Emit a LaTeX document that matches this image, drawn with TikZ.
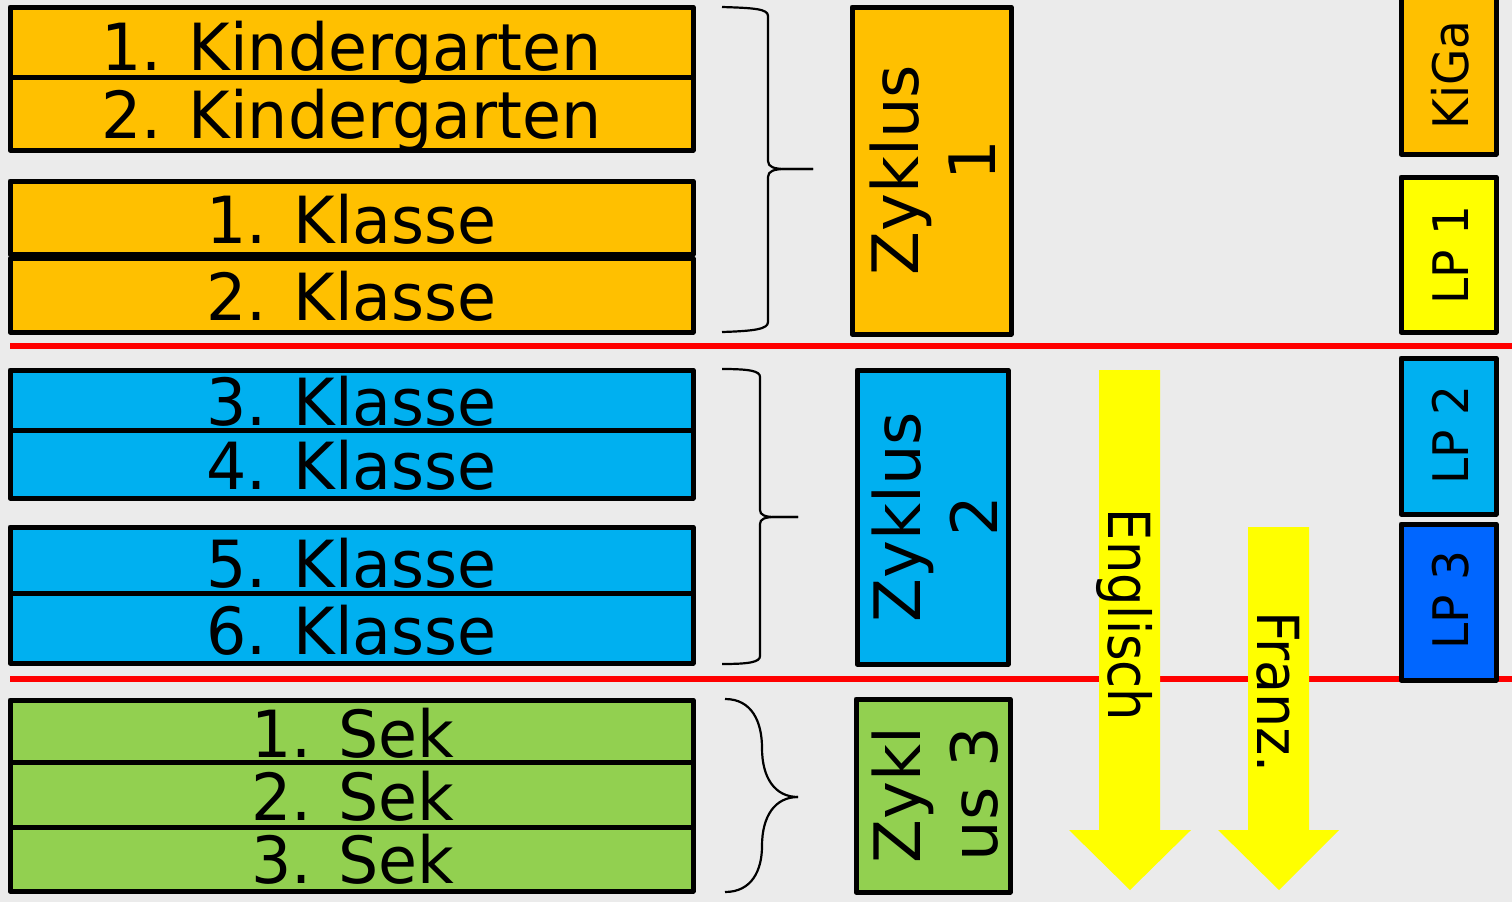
\documentclass[tikz,border=0pt]{standalone}
\usepackage{fontspec}
\setmainfont{DejaVu Sans}
\usepackage{graphicx}
\definecolor{bg}{HTML}{EBEBEB}
\definecolor{org}{HTML}{FFC000}
\definecolor{cyanb}{HTML}{00B0F0}
\definecolor{grn}{HTML}{92D050}
\definecolor{yel}{HTML}{FFFF00}
\definecolor{lpblue}{HTML}{0066FF}
\definecolor{redl}{HTML}{FF0000}
\newcommand\mybox[6]{%
  \node[bx, fill=#6, minimum width={(#4-#2)*1pt}, minimum height={(#5-#3)*1pt}] (#1) at ({(#2+#4)/2},{(#3+#5)/2}) {};}
\newcommand\nar[2]{\scalebox{#1}[1]{#2}}
\begin{document}
\begin{tikzpicture}[x=1pt,y=-1pt,
  bx/.style={draw=black, line width=5pt, inner sep=0pt, outer sep=0pt, rectangle, line join=round},
  bigtxt/.style={inner sep=0pt, anchor=base, font=\fontsize{65}{78}\selectfont},
  zytxt/.style={inner sep=0pt, anchor=base, rotate=90, font=\fontsize{64}{77}\selectfont},
  lptxt/.style={inner sep=0pt, anchor=base, rotate=90, font=\fontsize{49}{59}\selectfont},
  artxt/.style={inner sep=0pt, anchor=base, rotate=-90, font=\fontsize{58}{70}\selectfont},
  redline/.style={draw=redl, line width=5.5pt},
  brace/.style={draw=black, line width=2.2pt},
  arrowfill/.style={fill=yel}]
\fill[bg] (0,0) rectangle (1512,902);
\useasboundingbox (0,0) rectangle (1512,902);
% separators
\draw[redline] (10,346) -- (1512,346);
\draw[redline] (10,679) -- (1512,679);
% left column
\mybox{k1}{10}{7}{693}{77}{org}
\mybox{k2}{10}{77}{693}{150}{org}
\mybox{c1}{10}{181}{693}{254.5}{org}
\mybox{c2}{10}{258.5}{693}{332}{org}
\mybox{c3}{10}{370}{693}{430}{cyanb}
\mybox{c4}{10}{430}{693}{498}{cyanb}
\mybox{c5}{10}{527}{693}{593}{cyanb}
\mybox{c6}{10}{593}{693}{663}{cyanb}
\mybox{s1}{10}{700}{693}{762}{grn}
\mybox{s2}{10}{762}{693}{827}{grn}
\mybox{s3}{10}{827}{693}{891}{grn}
\node[bigtxt] (tk1) at (351.5,70) {\nar{0.975}{1. Kindergarten}};
\node[bigtxt] (tk2) at (351.5,138) {\nar{0.975}{2. Kindergarten}};
\node[bigtxt] (tc1) at (351.5,243) {\nar{0.975}{1. Klasse}};
\node[bigtxt] (tc2) at (351.5,320) {\nar{0.975}{2. Klasse}};
\node[bigtxt] (tc3) at (351.5,425) {\nar{0.975}{3. Klasse}};
\node[bigtxt] (tc4) at (351.5,489) {\nar{0.975}{4. Klasse}};
\node[bigtxt] (tc5) at (351.5,587) {\nar{0.975}{5. Klasse}};
\node[bigtxt] (tc6) at (351.5,654) {\nar{0.975}{6. Klasse}};
\node[bigtxt] (ts1) at (353,757) {\nar{0.975}{1. Sek}};
\node[bigtxt] (ts2) at (353,820) {\nar{0.975}{2. Sek}};
\node[bigtxt] (ts3) at (353,883) {\nar{0.975}{3. Sek}};
% braces
\draw[brace] (722,7) .. controls (755,8) and (768,9) .. (768,16) -- (768,161)
  .. controls (768,167) and (774,169) .. (786,169) -- (813,169);
\draw[brace] (813,169) -- (786,169) .. controls (774,169) and (768,171) .. (768,177)
  -- (768,322) .. controls (768,329) and (755,331) .. (722,332);
\draw[brace] (722,369) .. controls (750,369) and (760,371) .. (760,377) -- (760,510)
  .. controls (760,515) and (765,517) .. (775,517) -- (798,517);
\draw[brace] (798,517) -- (775,517) .. controls (765,517) and (760,519) .. (760,524)
  -- (760,656) .. controls (760,662) and (750,664) .. (722,664);
\draw[brace] (725,699) .. controls (752,699) and (762,722) .. (762,748)
  .. controls (762,778) and (775,797) .. (798,797);
\draw[brace] (798,797) .. controls (775,797) and (762,816) .. (762,846)
  .. controls (762,870) and (752,892) .. (725,892);
% Zyklus boxes
\mybox{z1}{852}{7}{1011}{334}{org}
\mybox{z2}{857}{370}{1008}{664}{cyanb}
\mybox{z3}{856}{699}{1010}{892}{grn}
\node[zytxt] (z1a) at (918,170) {Zyklus};
\node[zytxt] (z1b) at (995,160) {1};
\node[zytxt] (z2a) at (920,517) {Zyklus};
\node[zytxt] (z2b) at (997,516) {2};
\node[zytxt] (z3a) at (920,795) {Zykl};
\node[zytxt] (z3b) at (997,794) {us 3};
% arrows
\fill[arrowfill] (1099,370) -- (1160,370) -- (1160,830) -- (1191,830) -- (1130,890) -- (1069,830) -- (1099,830) -- cycle;
\fill[arrowfill] (1248,527) -- (1309,527) -- (1309,830) -- (1339,830) -- (1279,890) -- (1218,830) -- (1248,830) -- cycle;
\node[artxt] (en) at (1108,615) {\nar{0.88}{Englisch}};
\node[artxt] (fr) at (1257,692) {\nar{0.93}{Franz.}};
% Lehrplan boxes
\mybox{kg}{1401}{-5}{1496}{154}{org}
\mybox{lp1}{1401}{177}{1496}{332}{yel}
\mybox{lp2}{1401}{358}{1496}{514}{cyanb}
\mybox{lp3}{1401}{524}{1496}{680}{lpblue}
\node[lptxt] (tkg) at (1468,75) {\nar{0.96}{KiGa}};
\node[lptxt] (tlp1) at (1468,255) {\nar{0.96}{LP 1}};
\node[lptxt] (tlp2) at (1468,435) {\nar{0.96}{LP 2}};
\node[lptxt] (tlp3) at (1468,600) {\nar{0.96}{LP 3}};
\end{tikzpicture}
\end{document}
